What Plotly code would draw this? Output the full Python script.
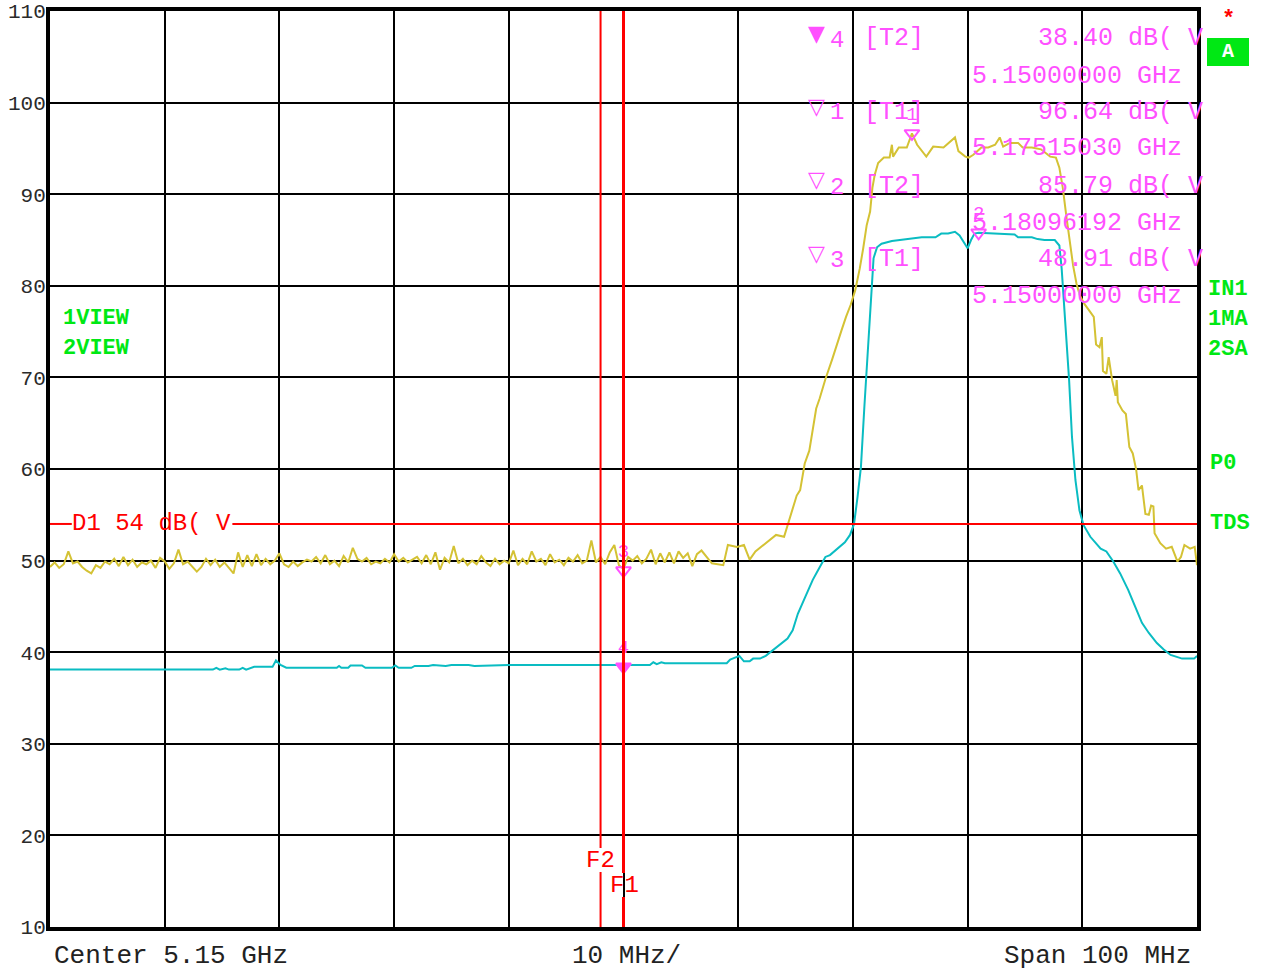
import plotly.graph_objects as go

# ---------------- data ----------------
F_START, F_STOP = 5100.0, 5200.0          # MHz (center 5.15 GHz, span 100 MHz)
Y_MIN, Y_MAX = 10, 110                    # dBuV
y_tick_labels = ["10", "20", "30", "40", "50", "60", "70", "80", "90", "100", "110"]
y_tick_values = [10, 20, 30, 40, 50, 60, 70, 80, 90, 100, 110]

# Trace 1 (yellow, max peak) noise floor, sweep step 0.4 MHz from 5100 MHz
trace1_noise_step = 0.4
trace1_noise_levels = [
    49.3, 49.8, 49.2, 49.6, 51.0, 49.7, 49.9, 49.3, 48.9, 48.6,
    49.5, 49.2, 49.9, 49.6, 50.2, 49.4, 50.4, 49.5, 50.1, 49.3,
    49.8, 49.6, 50.0, 49.2, 50.3, 49.9, 49.1, 49.7, 51.2, 49.6,
    49.9, 49.4, 48.8, 49.3, 50.2, 49.5, 50.1, 49.3, 49.8, 49.2,
    48.6, 50.9, 49.3, 50.6, 49.4, 50.7, 49.5, 50.2, 49.6, 50.0,
    50.8, 49.6, 49.3, 49.9, 49.4, 49.8, 50.1, 49.9, 50.4, 49.7,
    50.6, 49.6, 50.0, 49.4, 50.5, 49.8, 51.4, 50.2, 49.9, 50.3,
    49.6, 49.9, 49.7, 50.2, 49.8, 50.7, 49.9, 50.3, 49.8, 50.1,
    50.4, 49.7, 50.6, 49.6, 50.9, 49.0, 50.3, 49.8, 51.6, 49.7,
    50.2, 49.5, 50.0, 49.6, 50.5, 49.8, 49.4, 50.2, 49.6, 50.0,
    49.7, 51.1, 49.5, 50.2, 49.6, 51.0, 49.9, 50.2, 49.5, 50.7,
    49.8, 50.1, 49.5, 50.3, 49.9, 50.6, 49.7, 50.0, 52.2, 49.8,
    50.4, 49.6, 50.9, 51.7, 49.5, 49.1, 50.4, 50.0, 50.5, 49.7,
    50.2, 51.2, 49.6, 50.8, 49.8, 50.9, 49.7, 51.0, 50.3, 50.8,
    49.4, 50.7,
]

# Trace 1 (yellow) signal region: (MHz, dBuV)
trace1_signal = [
    (5156.8, 51.1), (5157.7, 49.7), (5158.7, 49.5), (5159.1, 51.7), (5159.9, 51.5),
    (5160.5, 51.7), (5161.0, 50.1), (5161.5, 51.0), (5162.4, 51.9), (5163.3, 52.8),
    (5164.0, 52.6), (5164.3, 53.9), (5164.6, 55.1), (5165.1, 57.1), (5165.4, 57.7),
    (5165.8, 60.6), (5166.2, 62.0), (5166.5, 64.2), (5166.8, 66.6), (5167.1, 67.7),
    (5167.6, 69.8), (5168.2, 72.0), (5168.7, 73.8), (5169.0, 75.1), (5169.4, 76.6),
    (5169.8, 77.9), (5170.2, 79.5), (5170.6, 81.9), (5170.9, 84.1), (5171.2, 86.6),
    (5171.5, 88.1), (5171.7, 90.7), (5171.9, 92.1), (5172.2, 93.4), (5172.7, 94.0),
    (5173.2, 94.0), (5173.4, 95.4), (5173.5, 94.1), (5174.0, 95.1), (5174.7, 95.1),
    (5175.15, 96.64), (5175.6, 95.4), (5176.4, 94.1), (5177.0, 95.2), (5177.9, 95.1),
    (5178.5, 95.8), (5178.9, 96.2), (5179.2, 94.7), (5179.8, 94.1), (5180.1, 94.0),
    (5180.5, 94.3), (5181.2, 95.1), (5181.8, 95.1), (5182.4, 95.4), (5182.8, 96.2),
    (5183.1, 95.2), (5183.7, 95.6), (5184.4, 95.6), (5184.8, 95.1), (5185.6, 95.1),
    (5186.4, 94.9), (5187.2, 94.1), (5187.7, 94.0), (5188.0, 92.9), (5188.3, 90.7),
    (5188.6, 87.7), (5188.9, 84.8), (5189.2, 82.2), (5189.5, 80.2), (5189.8, 78.9),
    (5190.2, 78.0), (5190.6, 77.3), (5191.0, 76.6), (5191.2, 73.6), (5191.5, 73.3),
    (5191.7, 74.4), (5191.8, 70.7), (5192.1, 70.4), (5192.3, 72.2), (5192.6, 69.7),
    (5192.9, 68.0), (5193.0, 69.7), (5193.1, 67.3), (5193.5, 66.4), (5193.8, 66.0),
    (5194.1, 62.4), (5194.4, 61.7), (5194.7, 59.9), (5194.9, 57.7), (5195.2, 58.2),
    (5195.5, 55.1), (5195.8, 55.0), (5196.0, 56.0), (5196.2, 55.9), (5196.3, 53.0),
    (5196.8, 51.9), (5197.3, 51.3), (5197.8, 51.5), (5198.3, 49.9), (5198.6, 50.4),
    (5198.9, 51.7), (5199.4, 51.3), (5199.8, 51.5), (5200.0, 49.5),
]

# Trace 2 (cyan, sample): (MHz, dBuV)
trace2_points = [
    (5100.0, 38.1), (5114.2, 38.1), (5114.5, 38.3), (5114.8, 38.1), (5115.3, 38.25),
    (5115.6, 38.1), (5116.5, 38.1), (5116.8, 38.3), (5117.1, 38.1), (5117.4, 38.25),
    (5117.8, 38.4), (5119.4, 38.4), (5119.7, 39.1), (5120.1, 38.6), (5120.6, 38.3),
    (5125.0, 38.3), (5125.2, 38.5), (5125.4, 38.3), (5126.0, 38.3), (5126.2, 38.55),
    (5127.2, 38.55), (5127.5, 38.3), (5129.8, 38.3), (5130.1, 38.55), (5130.4, 38.3),
    (5131.5, 38.3), (5131.8, 38.5), (5133.0, 38.5), (5133.4, 38.6), (5134.5, 38.5),
    (5135.0, 38.6), (5136.5, 38.6), (5137.0, 38.5), (5140.0, 38.6), (5152.3, 38.6),
    (5152.6, 38.9), (5152.9, 38.7), (5153.3, 38.9), (5153.6, 38.8), (5156.8, 38.8),
    (5159.0, 38.8), (5159.3, 39.2), (5160.1, 39.6), (5160.5, 39.0), (5161.0, 39.0),
    (5161.3, 39.3), (5161.9, 39.3), (5162.4, 39.6), (5163.0, 40.2), (5163.7, 40.8),
    (5164.3, 41.5), (5164.75, 42.4), (5165.2, 44.2), (5165.8, 45.9), (5166.5, 47.9),
    (5166.9, 48.8), (5167.6, 50.4), (5168.0, 50.6), (5168.7, 51.3), (5169.3, 52.0),
    (5169.75, 52.8), (5170.1, 54.0), (5170.4, 56.9), (5170.7, 60.2), (5171.0, 66.8),
    (5171.2, 70.7), (5171.5, 76.2), (5171.65, 80.3), (5171.8, 83.0), (5172.1, 84.2),
    (5172.5, 84.6), (5173.4, 84.9), (5174.7, 85.1), (5176.0, 85.3), (5177.2, 85.3),
    (5177.7, 85.7), (5178.3, 85.7), (5178.9, 85.9), (5179.3, 85.5), (5179.8, 84.6),
    (5180.0, 84.1), (5180.3, 85.0), (5180.6, 85.7), (5180.96, 85.79), (5182.1, 85.7),
    (5183.0, 85.7), (5184.1, 85.6), (5184.4, 85.3), (5185.6, 85.3), (5186.1, 85.1),
    (5186.7, 85.0), (5187.6, 85.0), (5188.0, 84.4), (5188.2, 81.9), (5188.4, 78.0),
    (5188.7, 73.3), (5188.85, 69.7), (5189.1, 63.5), (5189.4, 58.8), (5189.75, 55.5),
    (5190.1, 53.9), (5190.7, 52.6), (5191.2, 51.9), (5191.6, 51.3), (5192.1, 51.0),
    (5192.7, 49.9), (5193.3, 48.6), (5194.0, 46.8), (5194.6, 45.0), (5195.2, 43.2),
    (5195.8, 42.1), (5196.5, 41.0), (5197.1, 40.3), (5197.7, 39.7), (5198.7, 39.3),
    (5199.75, 39.3), (5200.0, 39.6),
]

# Markers: number, trace, freq (MHz), level (dBuV), filled?
marker_ids = ["4", "1", "2", "3"]
marker_traces = ["T2", "T1", "T2", "T1"]
marker_freqs = [5150.0, 5175.1503, 5180.96192, 5150.0]
marker_levels = [38.40, 96.64, 85.79, 48.91]
marker_filled = [True, False, False, False]
marker_level_text = ["38.40", "96.64", "85.79", "48.91"]
marker_freq_text = ["5.15000000 GHz", "5.17515030 GHz", "5.18096192 GHz", "5.15000000 GHz"]

display_line_level = 54          # D1
f1_freq, f2_freq = 5150.0, 5148.0

# ---------------- styling ----------------
YELLOW = "rgb(212,194,52)"
CYAN = "rgb(10,188,194)"
MAGENTA = "rgb(255,80,255)"
GREEN = "rgb(0,232,20)"
RED = "rgb(255,0,0)"
MONO = "Liberation Mono"

W, H = 1261, 972
L, R, T, B = 50, 64, 11, 45
PW, PH = W - L - R, H - T - B


def px(x):
    return (x - L) / PW


def py(y):
    return (H - B - y) / PH


def ylev(y):
    # pixel row -> level, for the gaps in the F1/F2 lines
    return Y_MAX - (y - T) / PH * (Y_MAX - Y_MIN)


noise_f = [F_START + i * trace1_noise_step for i in range(len(trace1_noise_levels))]
t1_f = noise_f + [p[0] for p in trace1_signal]
t1_l = trace1_noise_levels + [p[1] for p in trace1_signal]
t2_f = [p[0] for p in trace2_points]
t2_l = [p[1] for p in trace2_points]

fig = go.Figure()
fig.add_trace(go.Scatter(x=t1_f, y=t1_l, mode="lines",
                         line=dict(color=YELLOW, width=2), hoverinfo="skip"))
fig.add_trace(go.Scatter(x=t2_f, y=t2_l, mode="lines",
                         line=dict(color=CYAN, width=2), hoverinfo="skip"))

# markers on traces
fig.add_trace(go.Scatter(
    x=marker_freqs, y=marker_levels, mode="markers+text",
    text=marker_ids, textposition="top center",
    textfont=dict(family=MONO, size=19, color=MAGENTA),
    marker=dict(symbol=["triangle-down" if f else "triangle-down-open" for f in marker_filled],
                size=13, color=MAGENTA, line=dict(color=MAGENTA, width=2)),
    hoverinfo="skip", cliponaxis=False))

shapes = []
# display line D1 (gap for label)
shapes.append(dict(type="line", xref="x", yref="y", x0=F_START, x1=F_START + 1.9,
                   y0=display_line_level, y1=display_line_level, line=dict(color=RED, width=2)))
shapes.append(dict(type="line", xref="x", yref="y", x0=F_START + 15.9, x1=F_STOP,
                   y0=display_line_level, y1=display_line_level, line=dict(color=RED, width=2)))
# F2 line with gap for label
shapes.append(dict(type="line", xref="x", yref="y", x0=f2_freq, x1=f2_freq,
                   y0=Y_MAX, y1=ylev(848), line=dict(color=RED, width=2)))
shapes.append(dict(type="line", xref="x", yref="y", x0=f2_freq, x1=f2_freq,
                   y0=ylev(872), y1=Y_MIN, line=dict(color=RED, width=2)))
# F1 line with gap for label
shapes.append(dict(type="line", xref="x", yref="y", x0=f1_freq, x1=f1_freq,
                   y0=Y_MAX, y1=ylev(873), line=dict(color=RED, width=3)))
shapes.append(dict(type="line", xref="x", yref="y", x0=f1_freq, x1=f1_freq,
                   y0=ylev(897), y1=Y_MIN, line=dict(color=RED, width=3)))
# green "A" box
shapes.append(dict(type="rect", xref="paper", yref="paper", x0=px(1207), x1=px(1249),
                   y0=py(66), y1=py(38), fillcolor=GREEN, line=dict(width=0)))

ann = []


def text(x, y, s, color, size, anchor="left", bold=False, family=MONO):
    ann.append(dict(x=px(x), y=py(y), xref="paper", yref="paper", text=s,
                    showarrow=False, xanchor=anchor, yanchor="middle",
                    font=dict(family=family, size=size, color=color,
                              weight="bold" if bold else "normal")))


# bottom labels
text(52, 956, "Center 5.15 GHz", "#222", 26)
text(570, 956, "10 MHz/", "#222", 26)
text(1002, 956, "Span 100 MHz", "#222", 26)

# green status texts
text(61, 318, "1VIEW", GREEN, 22, bold=True)
text(61, 348, "2VIEW", GREEN, 22, bold=True)
text(1206, 289, "IN1", GREEN, 22, bold=True)
text(1206, 319, "1MA", GREEN, 22, bold=True)
text(1206, 349, "2SA", GREEN, 22, bold=True)
text(1208, 463, "P0", GREEN, 22, bold=True)
text(1208, 523, "TDS", GREEN, 22, bold=True)
text(1228, 52, "A", "white", 20, anchor="center", bold=True)
text(1228, 20, "*", RED, 22, anchor="center", bold=True)

# D1 label, F labels
text(70, 523, "D1 54 dB( V", RED, 24)
text(600, 860, "F2", RED, 24, anchor="center")
text(624, 885, "F1", RED, 24, anchor="center")

# marker table
row_y = [39, 112, 186, 259]
for i in range(4):
    y = row_y[i]
    sym = "▼" if marker_filled[i] else "▽"
    text(816, y - 6, sym, MAGENTA, 22, anchor="center", family="DejaVu Sans")
    text(828, y + 1, marker_ids[i], MAGENTA, 24)
    text(862, y, "[" + marker_traces[i] + "]", MAGENTA, 25)
    text(1036, y, marker_level_text[i] + " dB( V", MAGENTA, 25)
    text(970, y + 37, marker_freq_text[i], MAGENTA, 25)

fig.update_layout(
    width=W, height=H,
    margin=dict(l=L, r=R, t=T, b=B, autoexpand=False),
    paper_bgcolor="white", plot_bgcolor="white",
    showlegend=False, hovermode=False,
    shapes=shapes, annotations=ann,
    xaxis=dict(range=[F_START, F_STOP], tick0=F_START, dtick=10, automargin=False,
               showgrid=True, gridcolor="black", gridwidth=2,
               showticklabels=False, ticks="", zeroline=False,
               showline=True, linecolor="black", linewidth=4, mirror=True),
    yaxis=dict(range=[Y_MIN, Y_MAX], tickmode="array", tickvals=y_tick_values,
               ticktext=y_tick_labels, automargin=False, ticklabelstandoff=-4,
               showgrid=True, gridcolor="black", gridwidth=2,
               ticks="", zeroline=False,
               tickfont=dict(family=MONO, size=21, color="#2a2a2a"),
               showline=True, linecolor="black", linewidth=4, mirror=True),
)

fig.write_html("out.html", config={"displayModeBar": False},
               post_script="document.body.style.margin='0px';"
                           "document.body.style.overflow='hidden';")
